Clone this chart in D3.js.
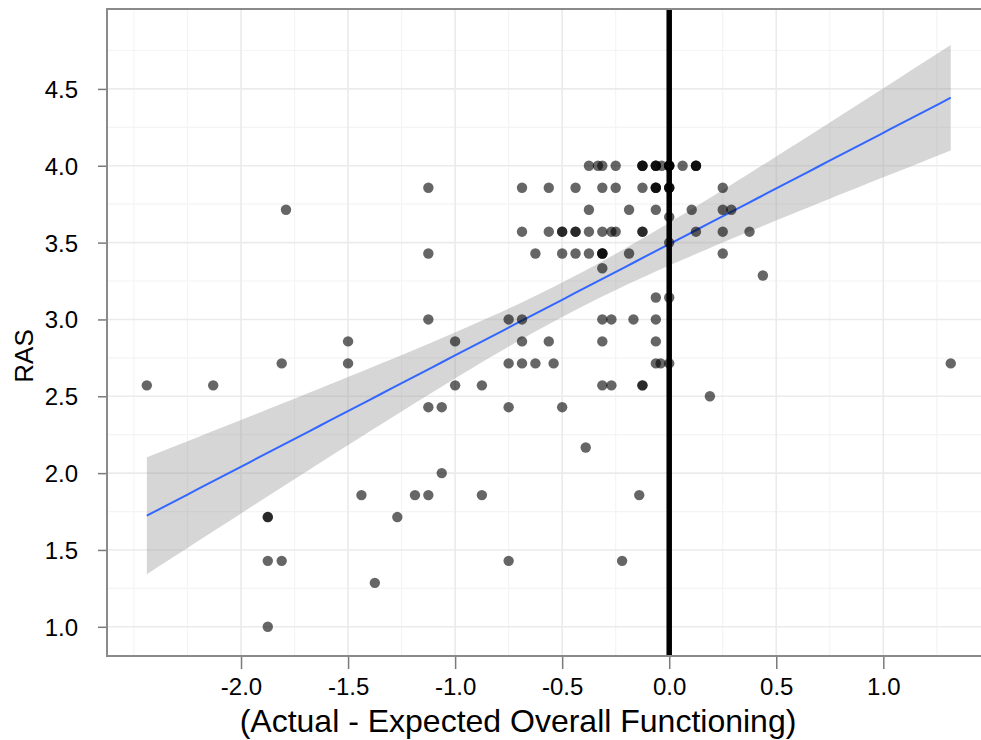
<!DOCTYPE html>
<html>
<head>
<meta charset="utf-8">
<script src="https://cdn.jsdelivr.net/npm/d3@7"></script>
<style>
  body { margin: 0; background: #fff; }
  text { font-family: "Liberation Sans", Arial, sans-serif; fill: #000; }
</style>
</head>
<body>
<div id="chart"></div>
<script>
// one entry per respondent, grouped by RAS row (top to bottom);
// darker dots in the picture are several respondents on the same spot
var diffX = [
  -0.375, -0.333, -0.3125, -0.25, -0.125, -0.125, -0.125, -0.0625, -0.0625, -0.0625, -0.035, 0, 0, 0, 0, 0.0625, 0.125, 0.125, 0.125,
  -1.125, -0.6875, -0.5625, -0.4375, -0.3125, -0.25, -0.125, -0.0625, -0.0625, -0.0625, 0, 0, 0, 0.25,
  -1.79, -0.375, -0.1875, -0.0625, 0.105, 0.25, 0.29,
  0, 0,
  -0.6875, -0.5625, -0.5, -0.5, -0.4375, -0.4375, -0.375, -0.3125, -0.27, -0.25, -0.125, -0.125, 0.125, 0.25, 0.375,
  -1.125, -0.625, -0.5, -0.4375, -0.375, -0.3125, -0.3125, -0.3125, -0.1875, 0.25,
  -0.3125, 0.4375, -0.0625, 0,
  -1.125, -0.75, -0.6875, -0.3125, -0.27, -0.167, -0.0625,
  -1.5, -1.0, -0.6875, -0.5625, -0.3125, -0.0625,
  -1.81, -1.5, -0.75, -0.6875, -0.625, -0.54, -0.0625, -0.04, 0, 1.315,
  -2.44, -2.13, -1.0, -0.875, -0.3125, -0.27, -0.125, -0.125,
  0.19,
  -1.125, -1.0625, -0.75, -0.5,
  -0.39, -1.0625,
  -1.4375, -1.1875, -1.125, -0.875, -0.14,
  -1.875, -1.875, -1.27,
  -1.875, -1.81, -0.75, -0.22,
  -1.375, -1.875
];
var rasY = [
  4, 4, 4, 4, 4, 4, 4, 4, 4, 4, 4, 4, 4, 4, 4, 4, 4, 4, 4,
  3.857, 3.857, 3.857, 3.857, 3.857, 3.857, 3.857, 3.857, 3.857, 3.857, 3.857, 3.857, 3.857, 3.857,
  3.714, 3.714, 3.714, 3.714, 3.714, 3.714, 3.714,
  3.667, 3.5,
  3.571, 3.571, 3.571, 3.571, 3.571, 3.571, 3.571, 3.571, 3.571, 3.571, 3.571, 3.571, 3.571, 3.571, 3.571,
  3.429, 3.429, 3.429, 3.429, 3.429, 3.429, 3.429, 3.429, 3.429, 3.429,
  3.333, 3.286, 3.143, 3.143,
  3, 3, 3, 3, 3, 3, 3,
  2.857, 2.857, 2.857, 2.857, 2.857, 2.857,
  2.714, 2.714, 2.714, 2.714, 2.714, 2.714, 2.714, 2.714, 2.714, 2.714,
  2.571, 2.571, 2.571, 2.571, 2.571, 2.571, 2.571, 2.571,
  2.5,
  2.429, 2.429, 2.429, 2.429,
  2.167, 2,
  1.857, 1.857, 1.857, 1.857, 1.857,
  1.714, 1.714, 1.714,
  1.429, 1.429, 1.429, 1.429,
  1.286, 1
];
var xTicks = [-2.0, -1.5, -1.0, -0.5, 0.0, 0.5, 1.0];
var xMinor = [-2.5, -2.25, -1.75, -1.25, -0.75, -0.25, 0.25, 0.75, 1.25];
var yTicks = [1.0, 1.5, 2.0, 2.5, 3.0, 3.5, 4.0, 4.5];
var yMinor = [1.25, 1.75, 2.25, 2.75, 3.25, 3.75, 4.25, 4.75];
var xDomain = [-2.626, 1.503];
var yDomain = [0.81, 5.02];
var xTitle = "(Actual - Expected Overall Functioning)";
var yTitle = "RAS";

var width = 981, height = 740;
var panel = { left: 107, top: 9, right: 991, bottom: 656 };

var svg = d3.select('#chart').append('svg')
    .attr('width', width)
    .attr('height', height);

var x = d3.scaleLinear().domain(xDomain).range([panel.left, panel.right]);
var y = d3.scaleLinear().domain(yDomain).range([panel.bottom, panel.top]);

var pts = diffX.map(function(d, i) { return { x: d, y: rasY[i] }; });

// linear fit with 95% confidence band, like geom_smooth(method = lm)
var n = pts.length;
var mx = d3.mean(pts, function(d) { return d.x; });
var my = d3.mean(pts, function(d) { return d.y; });
var sxx = d3.sum(pts, function(d) { return (d.x - mx) * (d.x - mx); });
var sxy = d3.sum(pts, function(d) { return (d.x - mx) * (d.y - my); });
var slope = sxy / sxx;
var icpt = my - slope * mx;
var sse = d3.sum(pts, function(d) { var r = d.y - icpt - slope * d.x; return r * r; });
var s = Math.sqrt(sse / (n - 2));
var tCrit = 1.98;
var xr = d3.extent(diffX);
var fit = d3.range(80).map(function(i) {
  var xv = xr[0] + (xr[1] - xr[0]) * i / 79;
  var yv = icpt + slope * xv;
  var se = s * Math.sqrt(1 / n + (xv - mx) * (xv - mx) / sxx);
  return { x: xv, y: yv, lo: yv - tCrit * se, hi: yv + tCrit * se };
});

svg.append('clipPath').attr('id', 'pclip')
  .append('rect')
    .attr('x', panel.left).attr('y', panel.top)
    .attr('width', panel.right - panel.left).attr('height', panel.bottom - panel.top);

var g = svg.append('g').attr('clip-path', 'url(#pclip)');

// grid lines
g.selectAll('.xminor').data(xMinor).enter()
  .append('line')
    .attr('x1', x).attr('x2', x)
    .attr('y1', panel.top).attr('y2', panel.bottom)
    .attr('stroke', '#f4f4f4').attr('stroke-width', 1.2);
g.selectAll('.yminor').data(yMinor).enter()
  .append('line')
    .attr('x1', panel.left).attr('x2', panel.right)
    .attr('y1', y).attr('y2', y)
    .attr('stroke', '#f4f4f4').attr('stroke-width', 1.2);
g.selectAll('.xmajor').data(xTicks).enter()
  .append('line')
    .attr('x1', x).attr('x2', x)
    .attr('y1', panel.top).attr('y2', panel.bottom)
    .attr('stroke', '#ebebeb').attr('stroke-width', 1.6);
g.selectAll('.ymajor').data(yTicks).enter()
  .append('line')
    .attr('x1', panel.left).attr('x2', panel.right)
    .attr('y1', y).attr('y2', y)
    .attr('stroke', '#ebebeb').attr('stroke-width', 1.6);

// confidence band and fit line
g.append('path')
    .datum(fit)
    .attr('d', d3.area()
      .x(function(d) { return x(d.x); })
      .y0(function(d) { return y(d.lo); })
      .y1(function(d) { return y(d.hi); }))
    .attr('fill', '#999999').attr('fill-opacity', 0.4);
g.append('path')
    .datum(fit)
    .attr('d', d3.line()
      .x(function(d) { return x(d.x); })
      .y(function(d) { return y(d.y); }))
    .attr('fill', 'none').attr('stroke', '#3366FF').attr('stroke-width', 2);

// the points
g.selectAll('circle')
    .data(pts).enter()
  .append('circle')
    .attr('cx', function(d) { return x(d.x); })
    .attr('cy', function(d) { return y(d.y); })
    .attr('r', 5.2)
    .attr('fill', '#000').attr('fill-opacity', 0.6);

// reference line at zero
g.append('line')
    .attr('x1', x(0)).attr('x2', x(0))
    .attr('y1', panel.top).attr('y2', panel.bottom)
    .attr('stroke', '#000').attr('stroke-width', 5.5);

// panel border
svg.append('rect')
    .attr('x', panel.left).attr('y', panel.top)
    .attr('width', panel.right - panel.left).attr('height', panel.bottom - panel.top)
    .attr('fill', 'none').attr('stroke', '#8a8a8a').attr('stroke-width', 2);

// axes
var xAxis = svg.append('g')
    .attr('transform', 'translate(0,' + (panel.bottom + 1) + ')')
    .call(d3.axisBottom(x).tickValues(xTicks).tickSize(12).tickPadding(9)
      .tickFormat(d3.format('.1f')));
var yAxis = svg.append('g')
    .attr('transform', 'translate(' + (panel.left - 1) + ',0)')
    .call(d3.axisLeft(y).tickValues(yTicks).tickSize(8).tickPadding(20)
      .tickFormat(d3.format('.1f')));
[xAxis, yAxis].forEach(function(a) {
  a.select('.domain').remove();
  a.selectAll('.tick line').attr('stroke', '#7a7a7a').attr('stroke-width', 1.5);
  a.selectAll('.tick text')
      .attr('fill', '#000')
      .style('font-family', '"Liberation Sans", Arial, sans-serif')
      .style('font-size', '24px');
});
xAxis.selectAll('.tick text').text(function(d) { return d3.format('.1f')(d).replace('−', '-'); });
yAxis.selectAll('.tick text').attr('dy', '0.35em');

// titles
svg.append('text')
    .attr('x', 518).attr('y', 732)
    .attr('text-anchor', 'middle')
    .style('font-size', '32px')
    .text(xTitle);
svg.append('text')
    .attr('transform', 'translate(33,356) rotate(-90)')
    .attr('text-anchor', 'middle')
    .style('font-size', '26px')
    .text(yTitle);
</script>
</body>
</html>
